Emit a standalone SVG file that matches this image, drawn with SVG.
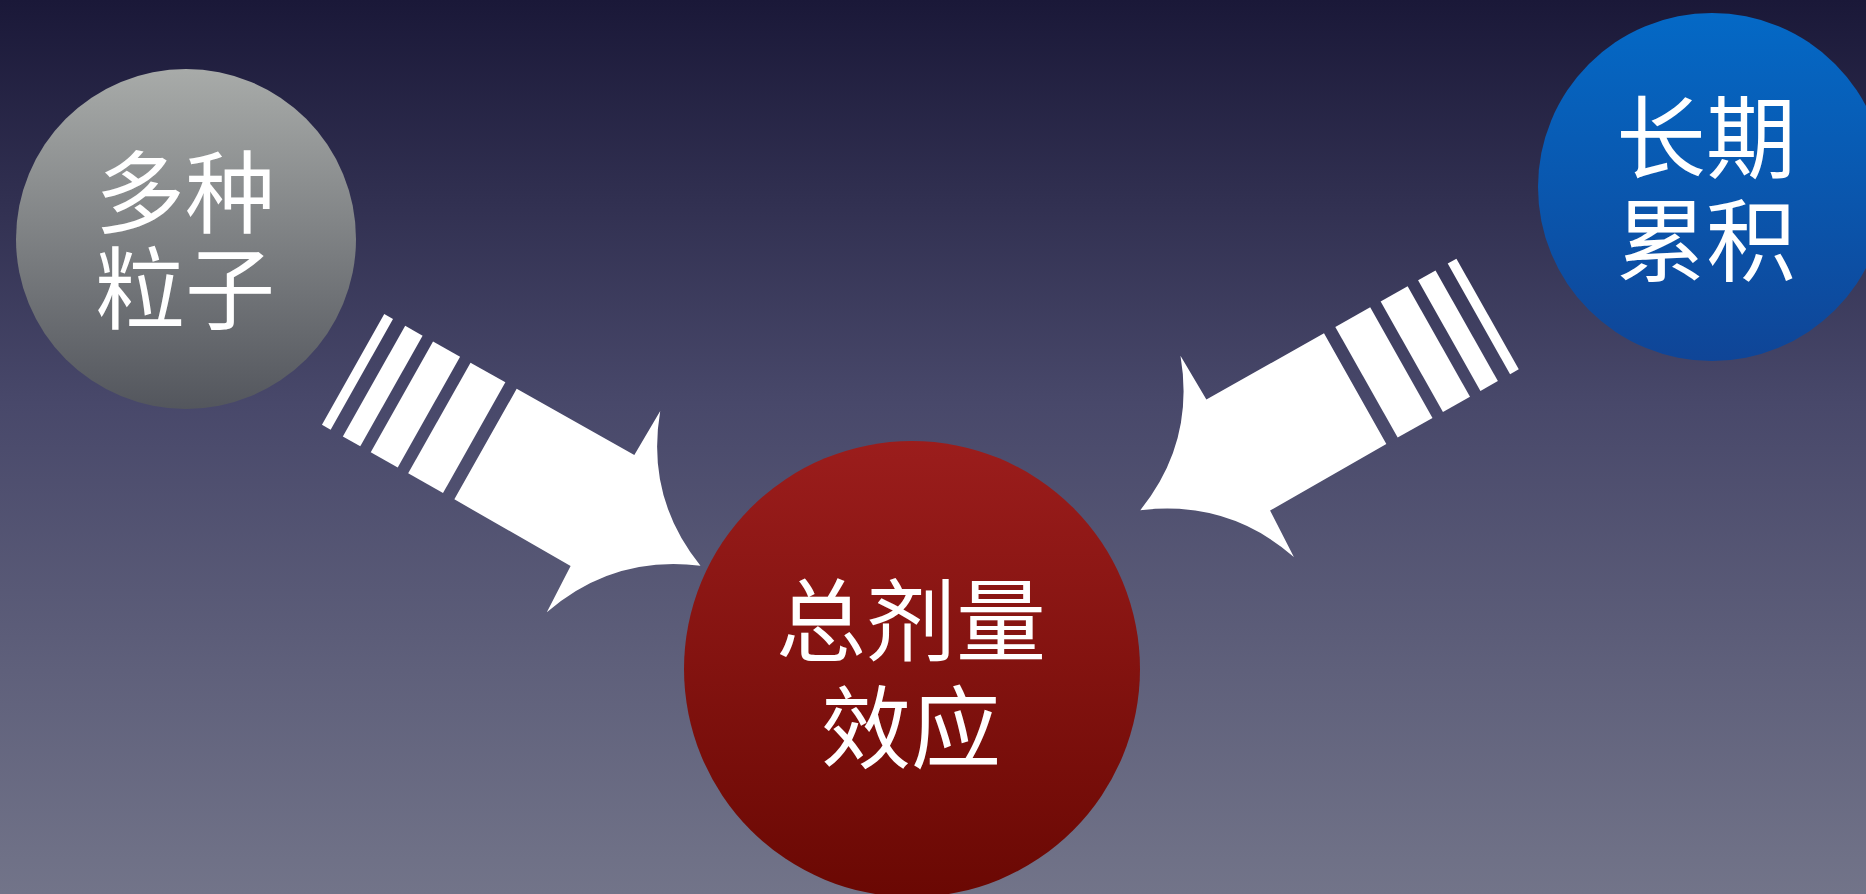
<svg xmlns="http://www.w3.org/2000/svg" width="1866" height="894" viewBox="0 0 1866 894">
<style>
.lbl{fill:#ffffff;font-family:"Noto Sans CJK SC","Noto Sans",sans-serif;font-size:90px;font-weight:400;text-anchor:middle}
.arrow{fill:#ffffff}
</style>
<defs>
<linearGradient id="bg" x1="0" y1="0" x2="0" y2="1">
<stop offset="0" stop-color="#1a1838"/>
<stop offset="0.45" stop-color="#48486a"/>
<stop offset="1" stop-color="#727489"/>
</linearGradient>
<linearGradient id="gGray" x1="0" y1="0" x2="0" y2="1">
<stop offset="0" stop-color="#a8aba9"/>
<stop offset="1" stop-color="#53565d"/>
</linearGradient>
<linearGradient id="gBlue" x1="0" y1="0" x2="0" y2="1">
<stop offset="0" stop-color="#0469c6"/>
<stop offset="1" stop-color="#0f4597"/>
</linearGradient>
<linearGradient id="gRed" x1="0" y1="0" x2="0" y2="1">
<stop offset="0" stop-color="#9b1d1c"/>
<stop offset="1" stop-color="#6a0803"/>
</linearGradient>
<g id="arrowShape">
<rect x="-152" y="0" width="10" height="127"/>
<rect x="-128" y="0" width="20" height="127"/>
<rect x="-96" y="0" width="31" height="127"/>
<rect x="-53" y="0" width="40" height="127"/>
<path d="M0,0 L135,0 L136,-51 Q165.6,31.5 247,64 Q165.6,97.5 136,180 L134,128 L0,127 Z"/>
</g>
</defs>
<rect x="0" y="0" width="1866" height="894" fill="url(#bg)"/>
<g id="connectors" class="arrow">
<use href="#arrowShape" transform="translate(516.7,388.7) rotate(29.4)"/>
<use href="#arrowShape" transform="translate(1324,333.3) scale(-1,1) rotate(29.4)"/>
</g>
<g id="node-particles">
<circle cx="186" cy="239" r="170" fill="url(#gGray)"/>
<text class="lbl" x="185" y="226">多种<tspan x="185" dy="96">粒子</tspan></text>
</g>
<g id="node-longterm">
<circle cx="1712" cy="187" r="174" fill="url(#gBlue)"/>
<text class="lbl" x="1706" y="171">长期<tspan x="1706" dy="103">累积</tspan></text>
</g>
<g id="node-dose">
<circle cx="912" cy="669" r="228" fill="url(#gRed)"/>
<text class="lbl" x="911" y="654">总剂量<tspan x="911" dy="107">效应</tspan></text>
</g>
</svg>
